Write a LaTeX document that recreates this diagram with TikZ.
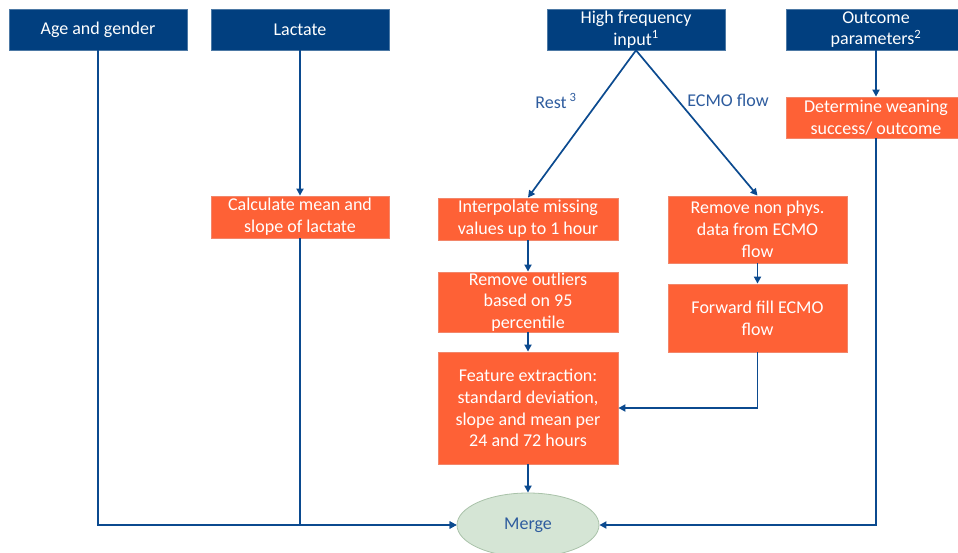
\documentclass[tikz,border=0pt]{standalone}
\usepackage{fontspec}
\setmainfont{Carlito}
\usetikzlibrary{arrows.meta,shapes.geometric}
\definecolor{dkblue}{HTML}{013F7F}
\definecolor{orng}{HTML}{FE6136}
\definecolor{orngedge}{HTML}{F2866A}
\definecolor{lineblue}{HTML}{0B4A8F}
\definecolor{lblblue}{HTML}{2E5C9E}
\definecolor{mergefill}{HTML}{D5E5D5}
\definecolor{mergeedge}{HTML}{A9C2A9}
\tikzset{
  inbox/.style={draw=dkblue!70!white, line width=0.6pt, fill=dkblue, text=white, align=center, inner sep=0pt, font=\fontsize{18}{21.7}\selectfont},
  procbox/.style={draw=orngedge, line width=0.8pt, fill=orng, text=white, align=center, inner sep=0pt, font=\fontsize{18}{21.7}\selectfont},
  conn/.style={draw=lineblue, line width=1.7pt, -{Triangle[length=7pt,width=7pt]}},
  lbl/.style={text=lblblue, font=\fontsize{18}{21.7}\selectfont, inner sep=0pt}
}
\begin{document}
\begin{tikzpicture}[x=1pt,y=-1pt]
\useasboundingbox (0,0) rectangle (958,553);
\clip (0,0) rectangle (958,553);
% input boxes
\node[inbox, minimum width=178pt, minimum height=41pt] (age) at (98,29.5) {Age and gender};
\node[inbox, minimum width=178pt, minimum height=41pt] (lac) at (300,29.5) {Lactate};
\node[inbox, minimum width=178pt, minimum height=41pt] (hf) at (636,29.5) {High frequency\\input\textsuperscript{1}};
\node[inbox, minimum width=180pt, minimum height=41pt] (out) at (876,29.5) {Outcome\\parameters\textsuperscript{2}};
% process boxes
\node[procbox, minimum width=178pt, minimum height=42pt] (calc) at (300,217) {Calculate mean and\\slope of lactate};
\node[procbox, minimum width=180pt, minimum height=42pt] (interp) at (528,219) {Interpolate missing\\values up to 1 hour};
\node[procbox, minimum width=179pt, minimum height=67pt] (remnon) at (757.5,229.5) {Remove non phys.\\data from ECMO\\flow};
\node[procbox, minimum width=180pt, minimum height=41pt] (det) at (876,117.5) {Determine weaning\\success/ outcome};
\node[procbox, minimum width=180pt, minimum height=60pt] (outl) at (528,302) {Remove outliers\\based on 95\\percentile};
\node[procbox, minimum width=179pt, minimum height=68pt] (ffill) at (757.5,318) {Forward fill ECMO\\flow};
\node[procbox, minimum width=180pt, minimum height=112pt] (feat) at (528,408) {Feature extraction:\\standard deviation,\\slope and mean per\\24 and 72 hours};
\node[ellipse, draw=mergeedge, line width=0.8pt, fill=mergefill, minimum width=142pt, minimum height=64pt, inner sep=0pt, text=lblblue, font=\fontsize{18}{21.7}\selectfont] (merge) at (528,525) {Merge};
% labels
\node[lbl] (restlbl) at (556,101) {Rest\,\textsuperscript{3}};
\node[lbl] (ecmolbl) at (728,100) {ECMO flow};
% connectors
\draw[conn] (age.south) |- (merge.west);
\draw[conn] (lac.south) -- (calc.north);
\draw[conn] (calc.south) |- (merge.west);
\draw[conn] (hf.south) -- (interp.north);
\draw[conn] (hf.south) -- (remnon.north);
\draw[conn] (interp.south) -- (outl.north);
\draw[conn] (outl.south) -- (feat.north);
\draw[conn] (remnon.south) -- (ffill.north);
\draw[conn] (ffill.south) |- (feat.east);
\draw[conn] (feat.south) -- (merge.north);
\draw[conn] (out.south) -- (det.north);
\draw[conn] (det.south) |- (merge.east);
\end{tikzpicture}
\end{document}
